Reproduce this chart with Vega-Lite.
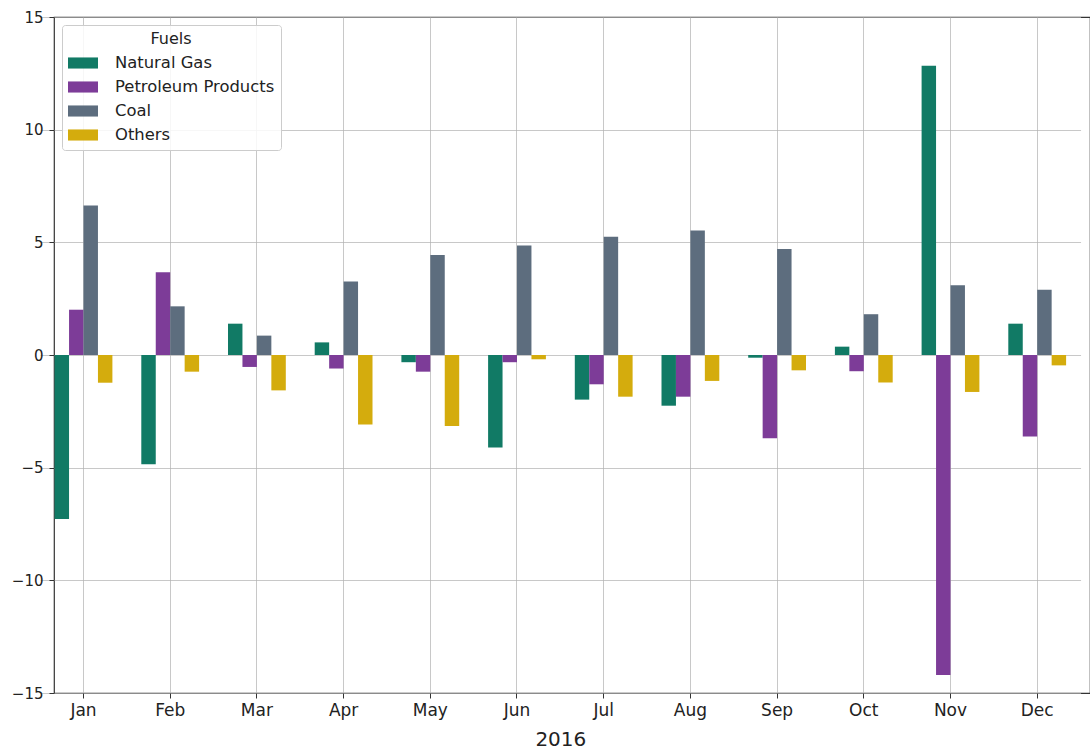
{
  "$schema": "https://vega.github.io/schema/vega-lite/v6.json",
  "width": 1036,
  "height": 676,
  "autosize": {"type": "none"},
  "padding": {"left": 54, "top": 17, "right": 0, "bottom": 58},
  "background": "white",
  "config": {
    "font": "DejaVu Sans",
    "view": {"stroke": "#333333", "strokeWidth": 1.2},
    "axis": {
      "labelFont": "DejaVu Sans",
      "titleFont": "DejaVu Sans",
      "labelColor": "#222222",
      "titleColor": "#222222",
      "labelFontSize": 15,
      "titleFontSize": 20,
      "titleFontWeight": "normal",
      "tickColor": "#333333",
      "tickSize": 5,
      "domain": false,
      "gridColor": "#b0b0b0",
      "gridOpacity": 0.7,
      "gridWidth": 1
    }
  },
  "data": {
    "values": [
      {"month": "Jan", "fuel": "Natural Gas", "value": -7.28},
      {"month": "Jan", "fuel": "Petroleum Products", "value": 2.01},
      {"month": "Jan", "fuel": "Coal", "value": 6.64},
      {"month": "Jan", "fuel": "Others", "value": -1.23},
      {"month": "Feb", "fuel": "Natural Gas", "value": -4.85},
      {"month": "Feb", "fuel": "Petroleum Products", "value": 3.67},
      {"month": "Feb", "fuel": "Coal", "value": 2.16},
      {"month": "Feb", "fuel": "Others", "value": -0.74},
      {"month": "Mar", "fuel": "Natural Gas", "value": 1.39},
      {"month": "Mar", "fuel": "Petroleum Products", "value": -0.53},
      {"month": "Mar", "fuel": "Coal", "value": 0.86},
      {"month": "Mar", "fuel": "Others", "value": -1.57},
      {"month": "Apr", "fuel": "Natural Gas", "value": 0.56},
      {"month": "Apr", "fuel": "Petroleum Products", "value": -0.6},
      {"month": "Apr", "fuel": "Coal", "value": 3.26},
      {"month": "Apr", "fuel": "Others", "value": -3.08},
      {"month": "May", "fuel": "Natural Gas", "value": -0.32},
      {"month": "May", "fuel": "Petroleum Products", "value": -0.74},
      {"month": "May", "fuel": "Coal", "value": 4.44},
      {"month": "May", "fuel": "Others", "value": -3.15},
      {"month": "Jun", "fuel": "Natural Gas", "value": -4.11},
      {"month": "Jun", "fuel": "Petroleum Products", "value": -0.32},
      {"month": "Jun", "fuel": "Coal", "value": 4.86},
      {"month": "Jun", "fuel": "Others", "value": -0.19},
      {"month": "Jul", "fuel": "Natural Gas", "value": -1.98},
      {"month": "Jul", "fuel": "Petroleum Products", "value": -1.3},
      {"month": "Jul", "fuel": "Coal", "value": 5.25},
      {"month": "Jul", "fuel": "Others", "value": -1.85},
      {"month": "Aug", "fuel": "Natural Gas", "value": -2.25},
      {"month": "Aug", "fuel": "Petroleum Products", "value": -1.85},
      {"month": "Aug", "fuel": "Coal", "value": 5.53},
      {"month": "Aug", "fuel": "Others", "value": -1.15},
      {"month": "Sep", "fuel": "Natural Gas", "value": -0.12},
      {"month": "Sep", "fuel": "Petroleum Products", "value": -3.7},
      {"month": "Sep", "fuel": "Coal", "value": 4.7},
      {"month": "Sep", "fuel": "Others", "value": -0.68},
      {"month": "Oct", "fuel": "Natural Gas", "value": 0.37},
      {"month": "Oct", "fuel": "Petroleum Products", "value": -0.72},
      {"month": "Oct", "fuel": "Coal", "value": 1.81},
      {"month": "Oct", "fuel": "Others", "value": -1.22},
      {"month": "Nov", "fuel": "Natural Gas", "value": 12.84},
      {"month": "Nov", "fuel": "Petroleum Products", "value": -14.2},
      {"month": "Nov", "fuel": "Coal", "value": 3.1},
      {"month": "Nov", "fuel": "Others", "value": -1.64},
      {"month": "Dec", "fuel": "Natural Gas", "value": 1.39},
      {"month": "Dec", "fuel": "Petroleum Products", "value": -3.62},
      {"month": "Dec", "fuel": "Coal", "value": 2.9},
      {"month": "Dec", "fuel": "Others", "value": -0.46}
    ]
  },
  "mark": {"type": "bar", "clip": true},
  "encoding": {
    "x": {
      "field": "month",
      "type": "nominal",
      "sort": ["Jan", "Feb", "Mar", "Apr", "May", "Jun", "Jul", "Aug", "Sep", "Oct", "Nov", "Dec"],
      "scale": {"range": [-13.85, 1026.55], "paddingInner": 0, "paddingOuter": 0},
      "axis": {
        "title": "2016",
        "labelAngle": 0,
        "labelFontSize": 17,
        "grid": true,
        "bandPosition": 0.5,
        "labelPadding": 4,
        "titlePadding": 11
      }
    },
    "xOffset": {
      "field": "fuel",
      "type": "nominal",
      "sort": ["Natural Gas", "Petroleum Products", "Coal", "Others"],
      "scale": {"paddingInner": 0, "paddingOuter": 1.03}
    },
    "y": {
      "field": "value",
      "type": "quantitative",
      "scale": {"domain": [-15, 15], "nice": false, "zero": false},
      "axis": {"title": null, "values": [-15, -10, -5, 0, 5, 10, 15], "grid": true, "labelPadding": 6}
    },
    "color": {
      "field": "fuel",
      "type": "nominal",
      "sort": ["Natural Gas", "Petroleum Products", "Coal", "Others"],
      "scale": {
        "domain": ["Natural Gas", "Petroleum Products", "Coal", "Others"],
        "range": ["#117a65", "#7d3c98", "#5d6d7e", "#d4ac0d"]
      },
      "legend": {
        "title": "Fuels",
        "orient": "none",
        "legendX": 8,
        "legendY": 8,
        "fillColor": "rgba(255,255,255,0.85)",
        "strokeColor": "#cccccc",
        "cornerRadius": 3,
        "padding": 6,
        "titleFont": "DejaVu Sans",
        "titleFontSize": 16,
        "titleFontWeight": "normal",
        "titleColor": "#222222",
        "titleAnchor": "middle",
        "titleAlign": "center",
        "titlePadding": 1,
        "labelFont": "DejaVu Sans",
        "labelFontSize": 16.4,
        "labelColor": "#222222",
        "labelOffset": 17,
        "symbolType": "M-1,-0.37H1V0.37H-1Z",
        "symbolSize": 900,
        "symbolStrokeWidth": 0,
        "rowPadding": -0.3
      }
    }
  }
}
